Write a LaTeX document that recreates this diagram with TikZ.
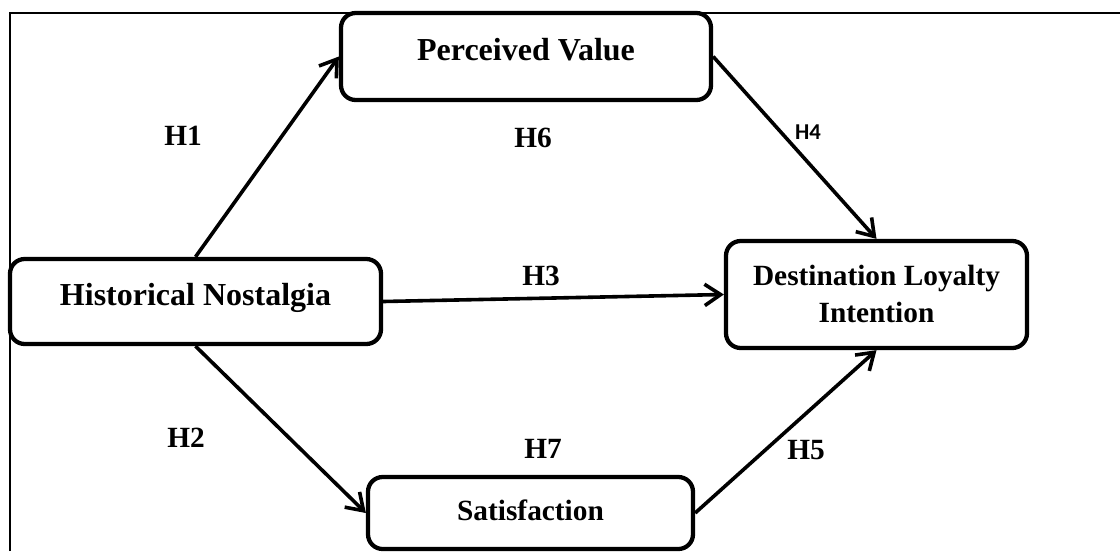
\documentclass[tikz,border=0pt]{standalone}
\usepackage{fontspec}
\setmainfont{Liberation Serif}
\newfontfamily\calib{Carlito}
\usetikzlibrary{arrows.meta}
\begin{document}
\begin{tikzpicture}[x=0.75pt,y=-0.75pt,
  box/.style={draw=black,line width=3.2pt,rounded corners=11pt,fill=white,inner sep=0pt},
  boxtext/.style={anchor=base,inner sep=0pt,font=\bfseries\fontsize{24}{28}\selectfont,align=center},
  boxtextsm/.style={anchor=base,inner sep=0pt,font=\bfseries\fontsize{22}{27.75}\selectfont,align=center},
  hyp/.style={anchor=base,inner sep=0pt,font=\bfseries\fontsize{22}{26}\selectfont},
  hypsans/.style={anchor=base,inner sep=0pt,font=\calib\bfseries\fontsize{17}{20}\selectfont},
  link/.style={line width=2.7pt,-{Straight Barb[length=12pt,width=16pt]}},
  frame/.style={line width=1.1pt}]
\useasboundingbox (0,0) rectangle (1120,551);
% outer frame (left and top edges)
\coordinate (fbl) at (10,551);
\coordinate (ftl) at (10,13);
\coordinate (ftr) at (1120,13);
\draw[frame] (fbl) -- (ftl) -- (ftr);
% boxes
\node[box,minimum width=277.5pt,minimum height=65.25pt] (pv) at (526,56.5) {};
\node[box,minimum width=278.25pt,minimum height=63.75pt] (hn) at (195.5,301.5) {};
\node[box,minimum width=225.75pt,minimum height=80.25pt] (dli) at (876.5,294.5) {};
\node[box,minimum width=243.75pt,minimum height=54pt] (sat) at (530.5,513) {};
% box texts
\node[boxtext] (pvt) at (526,60) {Perceived Value};
\node[boxtext] (hnt) at (195.5,305) {Historical Nostalgia};
\node[boxtextsm] (dlit1) at (876.5,285) {Destination Loyalty};
\node[boxtextsm] (dlit2) at (876.5,322) {Intention};
\node[boxtextsm] (satt) at (530.5,520) {Satisfaction};
% connectors
\draw[link] (hn.north) -- (pv.west);
\draw[link] (pv.east) -- (dli.north);
\draw[link] (hn.east) -- (dli.west);
\draw[link] (hn.south) -- (sat.west);
\draw[link] (sat.east) -- (dli.south);
% hypothesis labels
\node[hyp] (h1) at (183,145) {H1};
\node[hyp] (h6) at (533,147) {H6};
\node[hypsans] (h4) at (808,139) {H4};
\node[hyp] (h3) at (541,285) {H3};
\node[hyp] (h2) at (186,447) {H2};
\node[hyp] (h7) at (543,458) {H7};
\node[hyp] (h5) at (806,459) {H5};
\end{tikzpicture}
\end{document}
